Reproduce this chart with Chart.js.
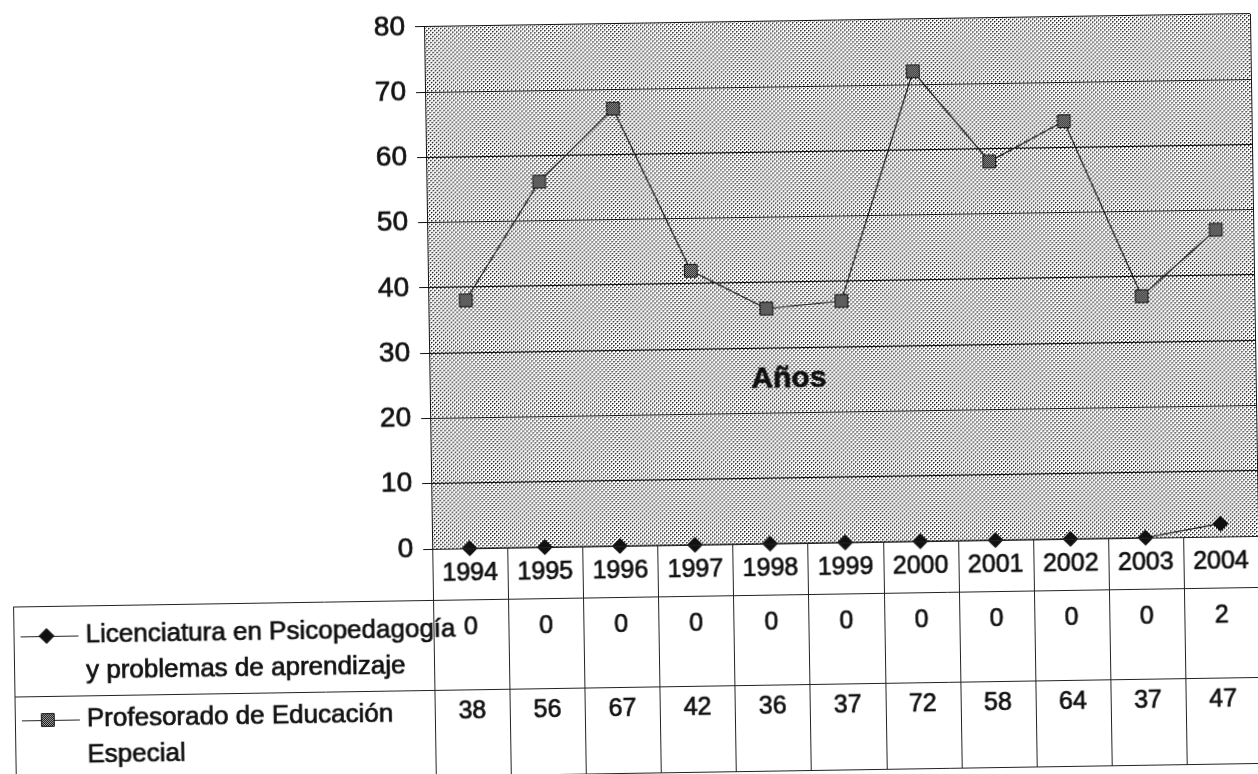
<!DOCTYPE html>
<html>
<head>
<meta charset="utf-8">
<script src="https://cdn.jsdelivr.net/npm/chart.js@4.4.0/dist/chart.umd.min.js"></script>
<style>
  html, body { margin: 0; padding: 0; background: #fff; overflow: hidden; width: 1258px; height: 774px; }
  #wrap { position: absolute; left: 0; top: 0; width: 1280px; height: 800px;
          transform: rotate(-0.9deg); transform-origin: 424px 25px; }
  canvas { display: block; }
</style>
</head>
<body>
<div id="wrap"><canvas id="chart" width="1280" height="800"></canvas></div>
<script>
// Graduates per year, two programmes
const years = ['1994', '1995', '1996', '1997', '1998', '1999', '2000', '2001', '2002', '2003', '2004'];
const licenciatura = [0, 0, 0, 0, 0, 0, 0, 0, 0, 0, 2];
const profesorado = [38, 56, 67, 42, 36, 37, 72, 58, 64, 37, 47];
const licenciaturaName = ['Licenciatura en Psicopedagogía', 'y problemas de aprendizaje'];
const profesoradoName = ['Profesorado de Educación', 'Especial'];
const yMin = 0, yMax = 80, yStep = 10;
const axisTitle = 'Años';

const FONT = "'Liberation Sans', Arial, Helvetica, sans-serif";
const INK = '#111';
const INK_STROKE = 0.7;   // slight extra weight on all lettering

// small repeating fills: dotted plot background and checkered square markers
function makePattern(size, cells) {
  const t = document.createElement('canvas');
  t.width = size; t.height = size;
  const c = t.getContext('2d');
  c.fillStyle = '#fff';
  c.fillRect(0, 0, size, size);
  cells.forEach(([x, y, col]) => { c.fillStyle = col; c.fillRect(x, y, 1, 1); });
  return document.createElement('canvas').getContext('2d').createPattern(t, 'repeat');
}
const plotPattern = makePattern(4, [
  [0, 0, '#111'], [1, 0, '#888'], [0, 1, '#888'],
  [2, 2, '#111'], [3, 2, '#888'], [2, 3, '#888']
]);
const markerPattern = makePattern(2, [[0, 0, '#111'], [1, 1, '#111'], [1, 0, '#aaa'], [0, 1, '#aaa']]);

const series = [
  { name: licenciaturaName, data: licenciatura, style: 'rectRot', radius: 7.5, fill: '#111', stroke: '#111' },
  { name: profesoradoName, data: profesorado, style: 'rect', radius: 9, fill: markerPattern, stroke: '#111' }
];

function inkText(ctx, text, x, y) {
  ctx.fillText(text, x, y);
  ctx.strokeText(text, x, y);
}

const plotFill = {
  id: 'plotFill',
  beforeDraw(chart) {
    const { ctx, chartArea: a } = chart;
    ctx.save();
    ctx.fillStyle = plotPattern;
    ctx.fillRect(a.left, a.top, a.right - a.left, a.bottom - a.top);
    ctx.restore();
  }
};

// data table under the plot, with the series keys in its first column
const dataTable = {
  id: 'dataTable',
  afterDraw(chart) {
    const { ctx, chartArea: a } = chart;
    const xs = chart.scales.x;
    const colW = (a.right - a.left) / years.length;
    const headerBottom = a.bottom + 51;
    const rowBottoms = [headerBottom + 90, headerBottom + 176];
    const keyLeft = 4;
    ctx.save();

    // plot right edge
    ctx.strokeStyle = INK;
    ctx.lineWidth = 1;
    ctx.beginPath();
    ctx.moveTo(a.right + 0.5, a.top);
    ctx.lineTo(a.right + 0.5, a.bottom);
    ctx.stroke();

    // axis title inside the plot
    ctx.fillStyle = INK;
    ctx.strokeStyle = INK;
    ctx.lineWidth = INK_STROKE;
    ctx.font = 'bold 30px ' + FONT;
    ctx.textAlign = 'center';
    ctx.textBaseline = 'middle';
    inkText(ctx, axisTitle, a.left + (a.right - a.left) * 0.435, chart.scales.y.getPixelForValue(25.2));

    // table rules
    ctx.strokeStyle = '#222';
    ctx.lineWidth = 1;
    ctx.beginPath();
    ctx.moveTo(a.left, a.bottom + 0.5); ctx.lineTo(a.right, a.bottom + 0.5);
    [headerBottom, ...rowBottoms].forEach(y => { ctx.moveTo(keyLeft, y + 0.5); ctx.lineTo(a.right, y + 0.5); });
    for (let k = 0; k <= years.length; k++) {
      const x = Math.round(a.left + k * colW) + 0.5;
      ctx.moveTo(x, a.bottom); ctx.lineTo(x, rowBottoms[1]);
    }
    ctx.moveTo(keyLeft + 0.5, headerBottom); ctx.lineTo(keyLeft + 0.5, rowBottoms[1]);
    ctx.stroke();

    // year labels
    ctx.fillStyle = INK;
    ctx.strokeStyle = INK;
    ctx.lineWidth = INK_STROKE;
    ctx.font = '25px ' + FONT;
    ctx.textAlign = 'center';
    ctx.textBaseline = 'middle';
    years.forEach((yr, i) => inkText(ctx, yr, xs.getPixelForValue(i), a.bottom + 25));

    // values and series keys
    const rowTops = [headerBottom, rowBottoms[0]];
    const firstLine = [28, 22];
    series.forEach((s, r) => {
      const yText = rowTops[r] + firstLine[r];
      ctx.fillStyle = INK;
      ctx.strokeStyle = INK;
      ctx.lineWidth = INK_STROKE;
      ctx.font = '25px ' + FONT;
      ctx.textAlign = 'center';
      s.data.forEach((v, i) => inkText(ctx, String(v), xs.getPixelForValue(i), yText));

      ctx.font = '26px ' + FONT;
      ctx.textAlign = 'left';
      s.name.forEach((line, j) => inkText(ctx, line, 76, yText + 2 + j * 36));

      const ky = yText + 2;
      ctx.strokeStyle = '#222';
      ctx.lineWidth = 1;
      ctx.beginPath();
      ctx.moveTo(11, ky + 0.5); ctx.lineTo(69, ky + 0.5);
      ctx.stroke();
      ctx.fillStyle = s.fill;
      ctx.strokeStyle = s.stroke;
      Chart.helpers.drawPoint(ctx, { pointStyle: s.style, radius: s.radius, rotation: 0, borderWidth: 1 }, 37, ky);
    });
    ctx.restore();
  }
};

new Chart(document.getElementById('chart'), {
  type: 'line',
  data: {
    labels: years,
    datasets: series.map(s => ({
      label: s.name.join(' '),
      data: s.data,
      borderColor: '#1a1a1a',
      borderWidth: 1.2,
      tension: 0,
      pointStyle: s.style,
      pointRadius: s.radius,
      pointBackgroundColor: s.fill,
      pointBorderColor: s.stroke,
      pointBorderWidth: 1,
      clip: false
    }))
  },
  options: {
    responsive: false,
    animation: false,
    devicePixelRatio: 1,
    layout: { padding: { top: 25, right: 30, bottom: 251, left: 0 } },
    plugins: { legend: { display: false }, tooltip: { enabled: false } },
    scales: {
      x: { type: 'category', offset: true, display: false },
      y: {
        min: yMin, max: yMax,
        ticks: {
          stepSize: yStep, color: INK, padding: 10,
          font: { family: FONT, size: 28 },
          textStrokeColor: INK, textStrokeWidth: INK_STROKE
        },
        grid: { color: INK, lineWidth: 1, tickLength: 9, drawTicks: true },
        border: { color: INK, width: 1 },
        afterFit(scale) { scale.width = 424; }
      }
    }
  },
  plugins: [plotFill, dataTable]
});
</script>
</body>
</html>
